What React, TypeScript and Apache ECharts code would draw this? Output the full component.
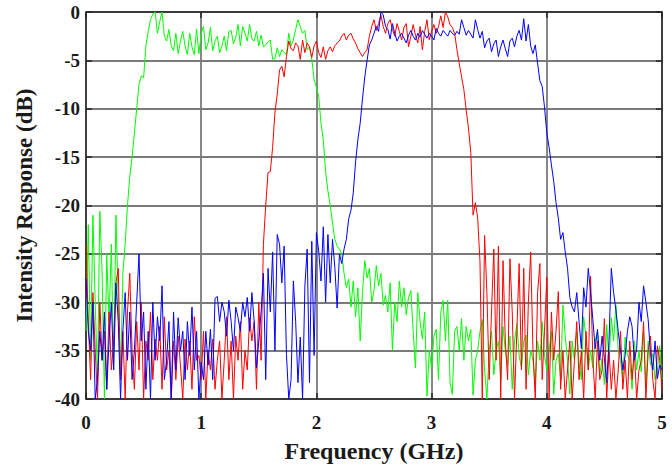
import React, { useEffect, useRef } from "react";
import * as echarts from "echarts";

// Sampling grid: 0 .. 5 GHz, step 0.02 GHz (251 samples)
const freqStep = 0.02;
const freqGHz: number[] = Array.from({ length: 251 }, (_, i) => Number((i * freqStep).toFixed(2)));

const yTicks = [0, -5, -10, -15, -20, -25, -30, -35, -40];
const xTicks = [0, 1, 2, 3, 4, 5];

// Green channel (dB), rows of 0.2 GHz
const greenDb: number[] = [
  -33, -22, -36, -21, -30, -38, -20.6, -27, -40, -25,
  -32, -24, -37, -21, -30, -38, -27, -24, -20, -17,
  -15, -12.5, -10, -7.5, -6.6, -6.8, -3.5, -2, -0.8, -0.2,
  0, -2.2, -1, 0, -2.5, -3, -1.8, -3.5, -4, -2.2,
  -4.3, -3, -2, -3.5, -4.4, -2.2, -3.6, -4.4, -1.8, -4.3,
  -2.2, -1.5, -3.9, -3.2, -1.6, -4, -3, -2.5, -4.2, -3.5,
  -2.5, -4, -2, -1.9, -3.3, -2.6, -1.3, -3.5, -1.5, -2.2,
  -3, -1.3, -2.8, -3, -2, -3.5, -2.4, -3.6, -3.4, -3.1,
  -2.9, -4.9, -4.8, -3.7, -4.6, -3.9, -4.2, -4.4, -2.2, -3.5,
  -2.9, -1.8, -0.8, -1.5, -2.2, -1.9, -3.9, -3.6, -4.9, -7,
  -7.8, -8.7, -11.5, -13.2, -16.5, -18.5, -20, -21.8, -23.5, -24.2,
  -24.5, -25, -27, -28.5, -27.6, -30.5, -27.8, -31.5, -28.5, -34,
  -29, -25.7, -27.5, -26.5, -30, -28.8, -26.2, -28.3, -27, -30.3,
  -29.3, -31, -28, -35, -30, -32, -27.8, -30.5, -28.5, -31.3,
  -29.5, -28.8, -33, -36.8, -29, -32, -33.8, -31, -39.7, -35,
  -36.8, -33.5, -32.8, -38, -31, -29.8, -34, -29.8, -38.3, -39.5,
  -33, -32.5, -35, -31.7, -36, -32.5, -34, -32.8, -39.6, -36,
  -35, -33, -31.8, -37, -40, -35, -33, -37.5, -35, -34,
  -38, -32.5, -35, -36.5, -33.5, -39, -34, -32.2, -35.5, -36.8,
  -34, -33.4, -37.5, -35, -36, -38.5, -34, -36, -32, -35.5,
  -37, -35, -33, -39.5, -36, -35.3, -38, -30.3, -33.5, -36,
  -39.5, -34, -36, -33, -36.2, -38, -31.5, -33.6, -37, -35,
  -36.8, -34, -33, -37.5, -35.8, -38.5, -32.3, -36, -31.6, -34,
  -30.3, -35, -36, -38, -33.6, -35.5, -36, -39, -34, -37,
  -35, -37.2, -33, -39, -34, -36.5, -35.3, -38, -37, -34.5,
  -38,
];

// Red channel (dB)
const redDb: number[] = [
  -24, -32, -38, -29, -35, -40, -30, -36, -33, -39,
  -31, -37, -34, -28, -26.5, -38, -33, -40, -31, -27,
  -35, -39, -32, -37, -30, -40, -34, -36, -31, -38,
  -33.8, -36, -32.5, -39, -31.5, -37, -35, -40, -34, -38,
  -33.5, -36.5, -40, -33.8, -37, -34, -39, -31.5, -36, -35.5,
  -38, -33, -40, -35, -37, -33.8, -39, -36, -34, -40,
  -36, -31.5, -38, -34, -40, -33.5, -36, -32, -39, -35,
  -37, -31.6, -34, -32, -39, -30, -36, -24, -20, -16.6,
  -16.5, -14, -10.4, -8.5, -6, -5.6, -6.7, -4.6, -3.0, -3.8,
  -4, -3.2, -3.5, -4.9, -2.9, -4.2, -3.2, -3.6, -4.7, -3.5,
  -3, -4.2, -4.7, -3.6, -4.9, -4, -3.6, -4.1, -3.5, -3.2,
  -3, -2.5, -2.2, -2.9, -2.4, -2.2, -2.8, -3.2, -3.8, -4.2,
  -4.6, -4.2, -3.9, -2.5, -1.5, -0.8, -1.9, -1.2, -0.3, -1.5,
  -2.2, -1.2, -0.8, -1.8, -2.5, -1.2, -2, -2.9, -1.6, -1.2,
  -3.6, -2.5, -1.3, -2.4, -3.2, -1.5, -3.9, -2, -0.8, -2.9,
  -2, -1.3, -2.2, -1.5, -0.4, -1.6, 0, -0.5, -1.3, -1.6,
  -2.2, -3.9, -5.3, -6.7, -8, -10.1, -12, -14.5, -21, -19.7,
  -21.3, -25.8, -40, -23.1, -29, -38, -31, -24.5, -36, -24.2,
  -40, -25.7, -34, -38, -25.5, -31, -40, -33, -26, -37,
  -26.5, -39, -30, -24.8, -35, -40, -29, -26, -38, -33,
  -27.4, -40, -31, -36, -33, -28.9, -39, -35, -40, -37,
  -34, -40, -36, -32, -38, -35, -40, -33, -37, -27.3,
  -36, -40, -34, -38, -37, -31.7, -40, -35, -39, -36,
  -40, -37, -33, -39, -36, -40, -34, -38, -35, -40,
  -37, -36, -32, -40, -35, -33.5, -38, -40, -34.5, -36,
  -39,
];

// Blue channel (dB)
const blueDb: number[] = [
  -27.5, -33, -35, -30, -40, -38, -33, -36, -31, -39,
  -34, -30, -37, -28, -32, -40, -33, -29, -36, -31,
  -38, -35, -30, -25, -34, -31, -39, -33, -40, -30,
  -36, -31.5, -34, -28.3, -38, -36, -32, -40, -31, -37,
  -31.6, -35, -33, -38, -32, -35.5, -30.5, -37, -33, -40,
  -36.2, -38, -33, -36.5, -32.8, -38, -29.6, -29.4, -32, -30,
  -31, -33.5, -29.8, -32, -35, -30.5, -31.6, -33, -30, -31.5,
  -29.5, -33, -29, -32, -36.8, -34, -31, -27, -38, -26.5,
  -31, -24.8, -35, -23, -24, -28, -24.2, -35.4, -40, -38,
  -27.8, -32, -38.3, -33.6, -40, -28.3, -24.5, -38.3, -23.7, -35.5,
  -22.8, -24.7, -27.8, -22.2, -30, -23, -28, -23.5, -26.4, -30.6,
  -25, -26, -24.5, -23.5, -21.4, -20.5, -18.7, -15.5, -13.2, -11.5,
  -9, -6.7, -5, -3.4, -2.9, -2.2, -1.5, -2, 0, -0.3,
  -1.5, -1.8, -2.8, -1.2, -2.2, -3, -2.5, -2.2, -2.7, -3.2,
  -2.4, -1.9, -2.5, -2.9, -2.2, -2.6, -1.9, -2.3, -2.7, -2.2,
  -2.5, -2.9, -1.7, -2.2, -2.5, -1.9, -2.2, -2.5, -1.9, -2.2,
  -2.4, -2, -2.3, -0.8, -1.6, -2.4, -1.9, -2.3, -2.7, -0.8,
  -1.8, -2.7, -2, -3.7, -3, -2.7, -4.1, -3.3, -2.9, -4.6,
  -3.6, -2.9, -3.8, -4.6, -3, -2.7, -3.6, -2.5, -1.9, -2.9,
  -0.7, -3, -1.3, -3.5, -4.3, -3.4, -5.3, -7.1, -7.7, -9.8,
  -12.5, -14, -15.8, -17.5, -19.7, -21.3, -23.5, -22.8, -24.8, -26.5,
  -29.5, -30.5, -31, -29, -32, -34.8, -28.5, -30.5, -26.5, -29,
  -31.8, -34.8, -32.8, -36, -33.5, -35.8, -38.3, -34, -26.5, -29,
  -30.8, -33, -35, -37, -35.5, -33, -31.5, -32.5, -36, -34.8,
  -30, -32, -28.3, -30, -31.8, -35.3, -37, -34, -37.9, -36.5,
  -37,
];

const seriesDefs = [
  { name: "Green", color: "#00ff00", values: greenDb },
  { name: "Red", color: "#ff0000", values: redDb },
  { name: "Blue", color: "#0000ff", values: blueDb },
];

const FONT = "'Liberation Serif', 'Times New Roman', serif";
const TEXT_COLOR = "#1a1a1a";
const AXIS_COLOR = "#262626";
const GRID_COLOR = "#7a7a7a";

export default function App() {
  const ref = useRef<HTMLDivElement>(null);

  useEffect(() => {
    document.body.style.margin = "0";
    if (!ref.current) return;
    const chart = echarts.init(ref.current, undefined, { renderer: "svg" });

    const labelStyle = {
      fontFamily: FONT,
      fontWeight: "bold" as const,
      fontSize: 19,
      color: TEXT_COLOR,
    };

    chart.setOption({
      animation: false,
      backgroundColor: "#ffffff",
      grid: { left: 86, right: 10, top: 12, bottom: 66, containLabel: false },
      xAxis: [
        {
          type: "value",
          min: xTicks[0],
          max: xTicks[xTicks.length - 1],
          interval: 1,
          name: "Frequency (GHz)",
          nameLocation: "middle",
          nameGap: 40,
          nameTextStyle: { fontFamily: FONT, fontWeight: "bold", fontSize: 24, color: TEXT_COLOR },
          axisLine: { show: true, onZero: false, lineStyle: { color: AXIS_COLOR, width: 1.5 } },
          axisTick: { show: true, inside: true, length: 6, lineStyle: { color: AXIS_COLOR, width: 1.5 } },
          axisLabel: { ...labelStyle, margin: 14 },
          splitLine: { show: true, lineStyle: { color: GRID_COLOR, width: 1.8 } },
        },
        {
          type: "value",
          position: "top",
          min: xTicks[0],
          max: xTicks[xTicks.length - 1],
          interval: 1,
          axisLine: { show: true, onZero: false, lineStyle: { color: AXIS_COLOR, width: 1.5 } },
          axisTick: { show: true, inside: true, length: 6, lineStyle: { color: AXIS_COLOR, width: 1.5 } },
          axisLabel: { show: false },
          splitLine: { show: false },
        },
      ],
      yAxis: [
        {
          type: "value",
          min: yTicks[yTicks.length - 1],
          max: yTicks[0],
          interval: 5,
          name: "Intensity Response (dB)",
          nameLocation: "middle",
          nameGap: 50,
          nameTextStyle: { fontFamily: FONT, fontWeight: "bold", fontSize: 23, color: TEXT_COLOR },
          axisLine: { show: true, onZero: false, lineStyle: { color: AXIS_COLOR, width: 1.5 } },
          axisTick: { show: true, inside: true, length: 6, lineStyle: { color: AXIS_COLOR, width: 1.5 } },
          axisLabel: { ...labelStyle, margin: 6 },
          splitLine: { show: true, lineStyle: { color: GRID_COLOR, width: 1.8 } },
        },
        {
          type: "value",
          position: "right",
          min: yTicks[yTicks.length - 1],
          max: yTicks[0],
          interval: 5,
          axisLine: { show: true, onZero: false, lineStyle: { color: AXIS_COLOR, width: 1.5 } },
          axisTick: { show: true, inside: true, length: 6, lineStyle: { color: AXIS_COLOR, width: 1.5 } },
          axisLabel: { show: false },
          splitLine: { show: false },
        },
      ],
      series: seriesDefs.map((s) => ({
        name: s.name,
        type: "line",
        xAxisIndex: 0,
        yAxisIndex: 0,
        symbol: "none",
        showSymbol: false,
        clip: true,
        lineStyle: { color: s.color, width: 1 },
        itemStyle: { color: s.color },
        data: freqGHz.map((f, i) => [f, s.values[i]]),
      })),
    });

    return () => chart.dispose();
  }, []);

  return <div ref={ref} style={{ width: 672, height: 468 }} />;
}
